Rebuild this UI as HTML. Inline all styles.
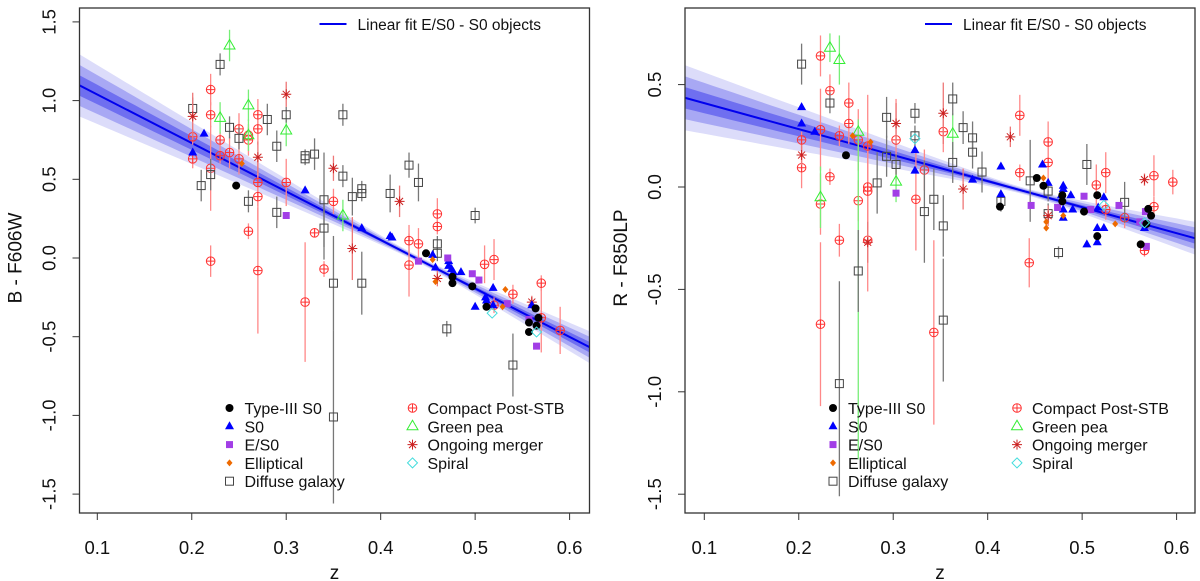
<!DOCTYPE html>
<html><head><meta charset="utf-8">
<style>
html,body{margin:0;padding:0;background:#fff;}
svg{display:block;font-family:"Liberation Sans",sans-serif;}
</style></head>
<body>
<svg id="fig" width="1200" height="581" viewBox="0 0 1200 581" xmlns="http://www.w3.org/2000/svg">
<defs>
<clipPath id="clipL"><rect x="79.5" y="8" width="510" height="505"/></clipPath>
<clipPath id="clipR"><rect x="685" y="8" width="510" height="505"/></clipPath>
</defs>
</svg>
<script>
// ---------- data: left panel (B - F606W) ----------
const xTicks = [0.1,0.2,0.3,0.4,0.5,0.6];
const xTickLabels = ["0.1","0.2","0.3","0.4","0.5","0.6"];
const yTicksL = [1.5,1.0,0.5,0.0,-0.5,-1.0,-1.5];
const yTickLabelsL = ["1.5","1.0","0.5","0.0","-0.5","-1.0","-1.5"];
const yTicksR = [0.5,0.0,-0.5,-1.0,-1.5];
const yTickLabelsR = ["0.5","0.0","-0.5","-1.0","-1.5"];
const fitL = [1.10, -3.08];   // intercept at z=0.08, slope
const fitR = [0.435, -1.27];

const compactL = [[.220,1.07,.1],[.220,.91,.08],[.201,.77,.05],[.201,.63,.06],[.220,.57,.27],[.220,-.02,.1],[.230,.75,.05],[.230,.65,.05],[.240,.67,.1],[.250,.82,.1],[.250,.63,.1],[.260,.78,.05],[.260,.75,.1],[.260,.17,.05],[.270,.91,.1],[.270,.82,.1],[.270,.48,.15],[.270,.39,.15],[.270,-.08,.4],[.300,.48,.15],[.320,-.28,.38],[.330,.16,.03],[.340,-.07,.05],[.350,.36,.08],[.430,.11,.1],[.430,-.045,.2],[.440,.09,.1],[.460,.28,.1],[.460,.20,.05],[.510,-.04,.12],[.520,-.01,.13],[.540,-.23,.06],[.570,-.16,.05],[.570,-.38,.22],[.590,-.46,.15],[.520,-.30,.05]];
const greenL = [[.240,1.35,.1],[.230,.89,.1],[.260,.97,.1],[.260,.78,.1],[.300,.81,.1],[.360,.27,.1]];
const diffuseL = [[.230,1.23,.07],[.201,.95,.07],[.210,.46,.1],[.220,.53,.1],[.240,.83,.07],[.250,.76,.07],[.260,.36,.07],[.280,.88,.1],[.290,.71,.1],[.300,.91,.05],[.290,.29,.1],[.320,.65,.04],[.320,.63,.04],[.330,.66,.1],[.340,.37,.3],[.340,.19,.2],[.350,-.16,.3],[.350,-1.01,.55],[.360,.91,.07],[.360,.52,.07],[.370,.39,.12],[.380,.44,.05],[.380,.41,.05],[.380,-.16,.2],[.410,.41,.12],[.430,.59,.08],[.440,.48,.12],[.460,.09,.05],[.460,.03,.05],[.470,-.45,.05],[.500,.27,.05],[.540,-.68,.2]];
const mergerL = [[.201,.90,.15],[.300,1.04,.08],[.270,.64,.1],[.350,.57,.08],[.420,.36,.1],[.370,.06,.2],[.460,-.13,.05],[.560,-.28,.04]];
const s0L = [[.201,.67],[.213,.79],[.320,.43],[.380,.19],[.410,.14],[.412,.13],[.455,.02],[.472,-.02],[.472,-.05],[.475,-.07],[.477,-.09],[.485,-.09],[.458,-.06],[.500,-.31],[.511,-.25],[.512,-.27],[.519,-.19],[.519,-.30],[.560,-.30]];
const type3L = [[.247,.46],[.448,.03],[.476,-.16],[.476,-.12],[.497,-.18],[.512,-.31],[.557,-.47],[.557,-.41],[.564,-.32],[.565,-.43],[.567,-.38]];
const es0L = [[.300,.27],[.471,0],[.497,-.1],[.504,-.14],[.534,-.29],[.557,-.39],[.565,-.56],[.440,-.02]];
const ellL = [[.455,-.01],[.458,-.15],[.532,-.2],[.529,-.31],[.253,.6]];
const spiralL = [[.518,-.35],[.565,-.47]];

// ---------- data: right panel (R - F850LP) ----------
const compactR = [[.223,.64,.1],[.203,.23,.04],[.203,.094,.1],[.223,.28,.2],[.223,-.083,.15],[.223,-.67,.4],[.233,.47,.08],[.233,.05,.04],[.243,.25,.05],[.243,-.26,.08],[.253,.41,.1],[.253,.31,.1],[.263,.23,.15],[.263,-.067,.1],[.273,.2,.25],[.273,0,.2],[.273,-.02,.2],[.273,-.26,.25],[.303,.23,.2],[.324,-.06,.25],[.333,.083,.1],[.343,-.71,.45],[.353,.27,.1],[.434,.35,.1],[.464,.22,.1],[.464,.12,.1],[.434,.07,.04],[.444,-.37,.12],[.515,.01,.1],[.525,.07,.1],[.525,-.11,.05],[.545,-.15,.05],[.576,.055,.1],[.576,-.096,.05],[.596,.024,.06],[.566,-.31,.03]];
const greenR = [[.233,.68,.07],[.243,.62,.12],[.263,.27,1.6,.06],[.223,-.05,.15],[.303,.026,.1],[.363,.26,.1]];
const diffuseR = [[.203,.60,.1],[.233,.41,.05],[.243,-.96,.55,.5],[.263,-.41,.2],[.283,.02,.15],[.293,.34,.1],[.293,.15,.1],[.303,.11,.05],[.323,.36,.05],[.323,.25,.05],[.333,-.12,.25],[.343,-.06,.15],[.353,-.19,.15],[.353,-.65,.3],[.363,.43,.08],[.363,.12,.1],[.374,.29,.08],[.384,.24,.08],[.384,.17,.08],[.394,.073,.1],[.414,-.07,.05],[.445,.03,.2],[.464,-.02,.05],[.464,-.13,.05],[.475,-.32,.03],[.505,.11,.1],[.545,-.075,.1]];
const mergerR = [[.203,.156,.05],[.303,.31,.1],[.273,-.27,.1],[.353,.36,.15],[.374,-.01,.1],[.424,.245,.05],[.464,-.14,.05],[.566,.036,.03]];
const s0R = [[.203,.39],[.203,.31],[.217,.27],[.323,.18],[.323,.08],[.384,.036],[.414,.10],[.414,-.035],[.458,.11],[.464,.02],[.480,.006],[.480,-.01],[.478,-.04],[.488,-.04],[.490,-.11],[.480,-.11],[.480,-.15],[.517,-.1],[.523,-.05],[.516,-.2],[.523,-.2],[.505,-.28],[.516,-.27],[.566,-.2]];
const type3R = [[.250,.155],[.413,-.096],[.452,.044],[.459,.006],[.479,-.04],[.479,-.07],[.502,-.12],[.516,-.04],[.516,-.24],[.562,-.28],[.570,-.107],[.573,-.14],[.568,-.18]];
const es0R = [[.303,-.03],[.446,-.09],[.474,-.1],[.502,-.045],[.509,-.11],[.539,-.09],[.561,-.17],[.567,-.12],[.568,-.29]];
const ellR = [[.257,.25],[.276,.22],[.459,.044],[.462,-.17],[.462,-.2],[.535,-.18],[.480,-.14]];
const spiralR = [[.323,.236],[.523,-.09],[.566,-.175]];

const legendLabels = ["Type-III S0","S0","E/S0","Elliptical","Diffuse galaxy","Compact Post-STB","Green pea","Ongoing merger","Spiral"];

const NS = "http://www.w3.org/2000/svg";
const svg = document.getElementById('fig');
function mk(tag, attrs, parent){
  const e = document.createElementNS(NS, tag);
  for (const k in attrs) e.setAttribute(k, attrs[k]);
  (parent||svg).appendChild(e);
  return e;
}
const COL = {compact:"#ff3333", compactErr:"#ff8888", green:"#33ee33", greenErr:"#77ee77", diffuse:"#444444", diffuseErr:"#777777", merger:"#cc2222", mergerErr:"#ee7777", s0:"#0000ff", type3:"#000000", es0:"#a23ee6", ell:"#ee6a00", spiral:"#44dddd"};

function marker(g, kind, x, y){
  if (kind==='compact'){
    mk('circle',{cx:x,cy:y,r:4.3,fill:'none',stroke:COL.compact,'stroke-width':1},g);
    mk('path',{d:`M${x-4.3} ${y}H${x+4.3}M${x} ${y-4.3}V${y+4.3}`,stroke:COL.compact,'stroke-width':1},g);
  } else if (kind==='green'){
    mk('path',{d:`M${x} ${y-6}L${x+5.5} ${y+3.5}L${x-5.5} ${y+3.5}Z`,fill:'none',stroke:COL.green,'stroke-width':1},g);
  } else if (kind==='diffuse'){
    mk('rect',{x:x-4,y:y-4,width:8,height:8,fill:'none',stroke:COL.diffuse,'stroke-width':1},g);
  } else if (kind==='merger'){
    mk('path',{d:`M${x-5} ${y}H${x+5}M${x} ${y-5}V${y+5}M${x-3.5} ${y-3.5}L${x+3.5} ${y+3.5}M${x-3.5} ${y+3.5}L${x+3.5} ${y-3.5}`,stroke:COL.merger,'stroke-width':1},g);
  } else if (kind==='s0'){
    mk('path',{d:`M${x} ${y-5}L${x+4.5} ${y+3}L${x-4.5} ${y+3}Z`,fill:COL.s0},g);
  } else if (kind==='type3'){
    mk('circle',{cx:x,cy:y,r:4,fill:COL.type3},g);
  } else if (kind==='es0'){
    mk('rect',{x:x-3.5,y:y-3.5,width:7,height:7,fill:COL.es0},g);
  } else if (kind==='ell'){
    mk('path',{d:`M${x} ${y-3.5}L${x+3} ${y}L${x} ${y+3.5}L${x-3} ${y}Z`,fill:COL.ell},g);
  } else if (kind==='spiral'){
    mk('path',{d:`M${x} ${y-5}L${x+5} ${y}L${x} ${y+5}L${x-5} ${y}Z`,fill:'none',stroke:COL.spiral,'stroke-width':1},g);
  }
}

function panel(P){
  const g = mk('g',{});
  
  
  const xs = z => P.x0 + (z - 0.1) * 944.6;
  const ys = v => P.y0 - v * P.ppu;
  const band = mk('g',{'clip-path':`url(#${P.clip})`},g);
  
  
  const fitv = z => P.fit[0] + P.fit[1]*(z-0.08);
  const hw = z => P.bw*Math.sqrt(0.0004 + 0.3*(z-0.44)*(z-0.44));
  const zs=[]; for(let z=0.06; z<=0.64; z+=0.01) zs.push(z);
  [[1,'#dcdcfa'],[0.66,'#a8a8f4'],[0.33,'#6f6ff0']].forEach(([k,c])=>{
    let d = zs.map((z,i)=>(i?'L':'M')+xs(z).toFixed(1)+' '+ys(fitv(z)+k*hw(z)).toFixed(1)).join('');
    d += zs.slice().reverse().map(z=>'L'+xs(z).toFixed(1)+' '+ys(fitv(z)-k*hw(z)).toFixed(1)).join('')+'Z';
    mk('path',{d,fill:c},band);
  });
  const fl = mk('line',{x1:xs(0.06),y1:ys(fitv(0.06)),x2:xs(0.64),y2:ys(fitv(0.64)),stroke:'#0000ee','stroke-width':2},band);
  
  
  const data = mk('g',{'clip-path':`url(#${P.clip})`},g);
  P.series.forEach(([kind, arr, ecol])=>{
    const sg = mk('g',{},data);
    
    
    arr.forEach(p=>{
      const x = xs(p[0]), y = ys(p[1]);
      if (p.length>2){
        const lo = p[2], hi = p.length>3 ? p[3] : p[2];
        mk('line',{x1:x,y1:ys(p[1]-lo),x2:x,y2:ys(p[1]+hi),stroke:ecol,'stroke-width':1.3},sg);
      }
    });
    arr.forEach(p=>{
      const pt = mk('g',{},sg);
      
      
      marker(pt, kind, xs(p[0]), ys(p[1]));
    });
  });
  const fr = mk('rect',{x:P.fx,y:8,width:510,height:505,fill:'none',stroke:'#333','stroke-width':1.3},g);
  
  
  xTicks.forEach((t,i)=>{
    const x = xs(t);
    mk('line',{x1:x,y1:513,x2:x,y2:520,stroke:'#333','stroke-width':1},g);
    const tx = mk('text',{x:x,y:554,'text-anchor':'middle','font-size':18.5,fill:'#111'},g);
    tx.textContent = xTickLabels[i];
    
    
  });
  P.yTicks.forEach((t,i)=>{
    const y = ys(t);
    mk('line',{x1:P.fx,y1:y,x2:P.fx-7,y2:y,stroke:'#333','stroke-width':1},g);
    const tx = mk('text',{x:0,y:0,'text-anchor':'middle','font-size':18.5,fill:'#111',transform:`translate(${P.fx-24},${y}) rotate(-90)`},g);
    tx.textContent = P.yLabels[i];
    
    
  });
  const xt = mk('text',{x:P.fx+255,y:579,'text-anchor':'middle','font-size':19,fill:'#111'},g);
  xt.textContent='z';
  
  
  const yt = mk('text',{x:0,y:0,'text-anchor':'middle','font-size':19,fill:'#111',transform:`translate(${P.fx-58},258) rotate(-90)`},g);
  yt.textContent=P.ytitle;
  
  
  const lg = mk('g',{},g);
  
  
  mk('line',{x1:P.fx+240,y1:24,x2:P.fx+267,y2:24,stroke:'#0000ee','stroke-width':2},lg);
  const lt = mk('text',{x:P.fx+278,y:30,'font-size':15.5,fill:'#111'},lg);
  lt.textContent='Linear fit E/S0 - S0 objects';
  const bl = mk('g',{},g);
  
  
  const kinds = ['type3','s0','es0','ell','diffuse','compact','green','merger','spiral'];
  kinds.forEach((k,i)=>{
    const col = i<5?0:1, row = i<5?i:i-5;
    const mx = P.fx + (col? P.lc2 : P.lc1), my = 408 + row*18.3;
    const e = mk('g',{},bl);
    
    
    marker(e,k,mx,my);
    const t = mk('text',{x:mx+15,y:my+6,'font-size':16,fill:'#111'},e);
    t.textContent = legendLabels[i];
  });
}

panel({name:'left-panel-b-f606w', fx:79.5, x0:97.3, y0:258, ppu:157.4, clip:'clipL', fit:fitL, bw:1,
  yTicks:yTicksL, yLabels:yTickLabelsL, ytitle:'B - F606W', lc1:150, lc2:333,
  series:[['compact',compactL,COL.compactErr],['green',greenL,COL.greenErr],['diffuse',diffuseL,COL.diffuseErr],['merger',mergerL,COL.mergerErr],['s0',s0L,''],['es0',es0L,''],['ell',ellL,''],['type3',type3L,''],['spiral',spiralL,'']]});
panel({name:'right-panel-r-f850lp', fx:685, x0:704.3, y0:187, ppu:204.8, clip:'clipR', fit:fitR, bw:0.8,
  yTicks:yTicksR, yLabels:yTickLabelsR, ytitle:'R - F850LP', lc1:148, lc2:332,
  series:[['compact',compactR,COL.compactErr],['green',greenR,COL.greenErr],['diffuse',diffuseR,COL.diffuseErr],['merger',mergerR,COL.mergerErr],['s0',s0R,''],['es0',es0R,''],['ell',ellR,''],['type3',type3R,''],['spiral',spiralR,'']]});
</script>
</body></html>
